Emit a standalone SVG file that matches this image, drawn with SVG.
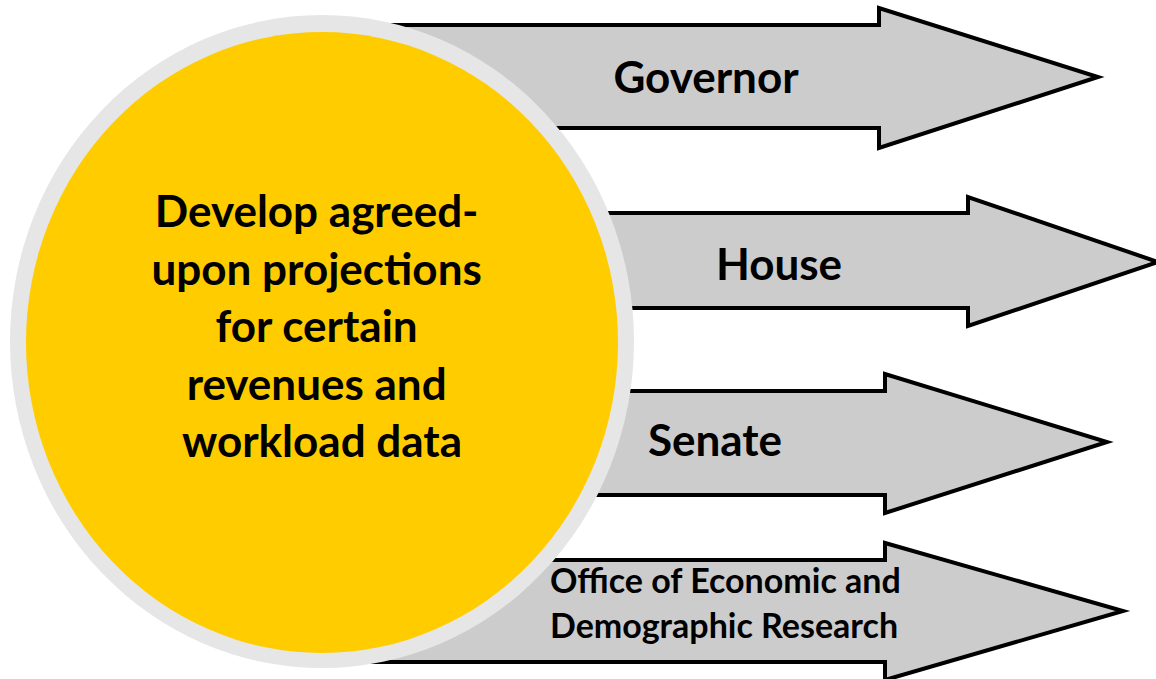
<svg xmlns="http://www.w3.org/2000/svg" width="1156" height="679" viewBox="0 0 1156 679">
<style>
.arrow{fill:#cccccc;stroke:#000000;stroke-width:4;stroke-linejoin:miter}
.lbl{font-family:Lato,"Liberation Sans",sans-serif;font-weight:bold;fill:#000000}
.big{font-size:44px;text-anchor:middle}
.small{font-size:34px}
</style>
<rect width="1156" height="679" fill="#ffffff"/>
<g id="arrow-governor">
<polygon class="arrow" points="300,25 879,25 879,8 1098,77 879,148 879,128 300,128"/>
<text class="lbl big" x="706" y="93">Governor</text>
</g>
<g id="arrow-house">
<polygon class="arrow" points="300,213 968,213 968,197 1158,262 968,326 968,308 300,308"/>
<text class="lbl big" x="779" y="280">House</text>
</g>
<g id="arrow-senate">
<polygon class="arrow" points="300,391 885,391 885,374 1107,442 885,513 885,495 300,495"/>
<text class="lbl big" x="715" y="456">Senate</text>
</g>
<g id="arrow-oedr">
<polygon class="arrow" points="300,560 885,560 885,543 1123,611 885,680 885,662 300,662"/>
<text class="lbl small" x="550" y="593">Office of Economic and</text>
<text class="lbl small" x="550" y="638">Demographic Research</text>
</g>
<g id="connectors"></g>
<g id="center-circle">
<ellipse cx="322" cy="341.5" rx="312" ry="326.5" fill="#e6e6e6"/>
<ellipse cx="322" cy="342.5" rx="296" ry="310.5" fill="#ffcc00"/>
<text class="lbl big">
<tspan x="322" y="227">Develop agreed-</tspan>
<tspan x="322" y="285">upon projections</tspan>
<tspan x="322" y="342">for certain</tspan>
<tspan x="322" y="400">revenues and</tspan>
<tspan x="322" y="457">workload data</tspan>
</text>
</g>
</svg>
